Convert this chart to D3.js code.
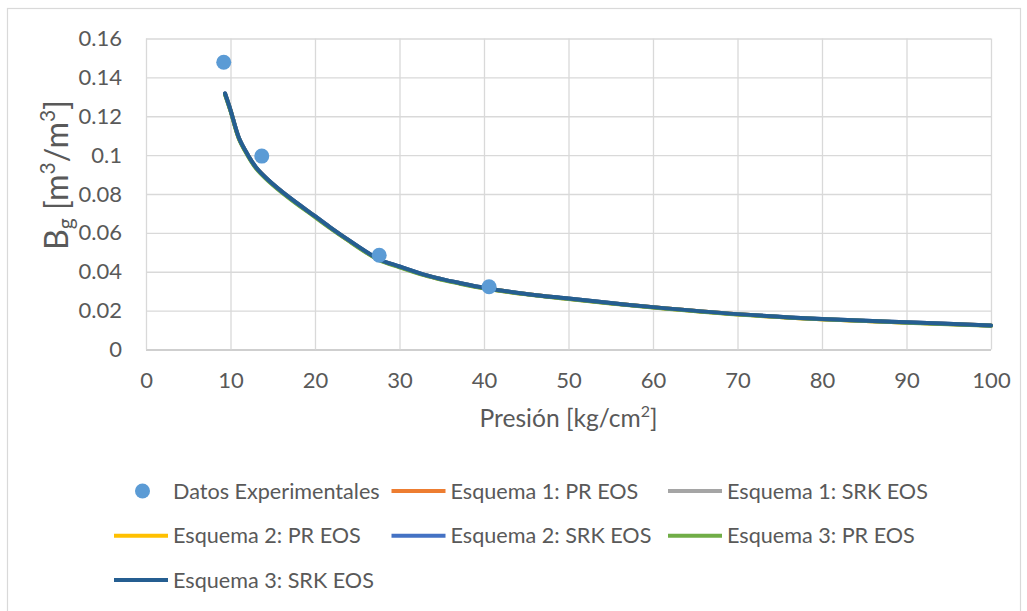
<!DOCTYPE html>
<html>
<head>
<meta charset="utf-8">
<script src="https://cdn.jsdelivr.net/npm/d3@7"></script>
<style>
  body { margin: 0; background: #fff; }
  text { font-family: Lato, "Open Sans", sans-serif; fill: #595959; }
</style>
</head>
<body>
<svg id="chart" width="1027" height="611"></svg>
<script>
// Experimental gas formation volume factor
const expPressure = [9.2, 13.7, 27.6, 40.6];
const expBg = [0.1478, 0.0995, 0.0485, 0.0323];

// Pressures at which the EOS models were evaluated
const modelPressure = [9.35, 10, 11, 12, 13, 14.5, 17, 20, 22, 23.5, 27.5, 30, 33, 35, 37, 40, 45, 50, 55, 60, 70, 80, 90, 100];

// Bg predicted by each scheme / equation of state
const bgScheme1PR  = [0.1316, 0.1231, 0.1087, 0.1004, 0.0937, 0.0870, 0.0780, 0.0685, 0.0621, 0.0575, 0.0464, 0.0425, 0.0383, 0.0361, 0.0342, 0.0316, 0.0285, 0.0261, 0.0238, 0.0217, 0.0181, 0.0156, 0.0139, 0.0123];
const bgScheme1SRK = [0.1317, 0.1232, 0.1088, 0.1005, 0.0938, 0.0871, 0.0781, 0.0686, 0.0622, 0.0576, 0.0465, 0.0426, 0.0384, 0.0362, 0.0343, 0.0317, 0.0286, 0.0262, 0.0239, 0.0218, 0.0182, 0.0157, 0.0140, 0.0124];
const bgScheme2PR  = [0.1315, 0.1230, 0.1086, 0.1003, 0.0936, 0.0869, 0.0779, 0.0684, 0.0620, 0.0575, 0.0464, 0.0425, 0.0383, 0.0361, 0.0342, 0.0316, 0.0285, 0.0261, 0.0238, 0.0217, 0.0181, 0.0156, 0.0139, 0.0123];
const bgScheme2SRK = [0.1317, 0.1232, 0.1088, 0.1005, 0.0938, 0.0871, 0.0781, 0.0686, 0.0622, 0.0577, 0.0466, 0.0427, 0.0384, 0.0362, 0.0343, 0.0317, 0.0286, 0.0262, 0.0239, 0.0218, 0.0182, 0.0157, 0.0140, 0.0124];
const bgScheme3PR  = [0.1312, 0.1227, 0.1083, 0.1000, 0.0933, 0.0866, 0.0776, 0.0681, 0.0618, 0.0573, 0.0462, 0.0423, 0.0381, 0.0359, 0.0340, 0.0315, 0.0284, 0.0260, 0.0237, 0.0216, 0.0180, 0.0155, 0.0138, 0.0122];
const bgScheme3SRK = [0.1317, 0.1232, 0.1088, 0.1005, 0.0938, 0.0871, 0.0781, 0.0686, 0.0622, 0.0577, 0.0466, 0.0427, 0.0384, 0.0362, 0.0343, 0.0317, 0.0286, 0.0262, 0.0239, 0.0218, 0.0182, 0.0157, 0.0140, 0.0124];

const seriesNames = ["Datos Experimentales", "Esquema 1: PR EOS", "Esquema 1: SRK EOS",
                     "Esquema 2: PR EOS", "Esquema 2: SRK EOS", "Esquema 3: PR EOS", "Esquema 3: SRK EOS"];
const seriesColors = ["#5B9BD5", "#ED7D31", "#A5A5A5", "#FFC000", "#4472C4", "#70AD47", "#255E91"];
const modelSeries = [bgScheme1PR, bgScheme1SRK, bgScheme2PR, bgScheme2SRK, bgScheme3PR, bgScheme3SRK];

const xTicks = [0, 10, 20, 30, 40, 50, 60, 70, 80, 90, 100];
const xTickLabels = ["0", "10", "20", "30", "40", "50", "60", "70", "80", "90", "100"];
const yTicks = [0, 0.02, 0.04, 0.06, 0.08, 0.1, 0.12, 0.14, 0.16];
const yTickLabels = ["0", "0.02", "0.04", "0.06", "0.08", "0.1", "0.12", "0.14", "0.16"];

const svg = d3.select("#chart");
const W = 1027, H = 611;
const plot = { left: 146, right: 991, top: 38.5, bottom: 349.5 };
const tickFont = 22;
const legendFont = 21.6;

svg.append("rect").attr("width", W).attr("height", H).attr("fill", "#fff");
// chart frame
svg.append("rect")
  .attr("x", 7.5).attr("y", 8.5).attr("width", 1013).attr("height", 700)
  .attr("fill", "none").attr("stroke", "#d9d9d9").attr("stroke-width", 1.2);

const x = d3.scaleLinear().domain([0, 100]).range([plot.left, plot.right]);
const y = d3.scaleLinear().domain([0, 0.16]).range([plot.bottom, plot.top]);

// gridlines
const gridY = svg.append("g").attr("transform", `translate(${plot.left},0)`)
  .call(d3.axisLeft(y).tickValues(yTicks).tickSize(-(plot.right - plot.left)).tickFormat(""));
gridY.select(".domain").remove();
gridY.selectAll("line").attr("stroke", d => d === 0 ? "#bfbfbf" : "#d9d9d9").attr("stroke-width", 1.3);

const gridX = svg.append("g").attr("transform", `translate(0,${plot.bottom})`)
  .call(d3.axisBottom(x).tickValues(xTicks).tickSize(-(plot.bottom - plot.top)).tickFormat(""));
gridX.select(".domain").remove();
gridX.selectAll("line").attr("stroke", "#d9d9d9").attr("stroke-width", 1.3);

// tick labels
const axY = svg.append("g").attr("transform", `translate(${plot.left},0)`)
  .call(d3.axisLeft(y).tickValues(yTicks).tickSize(0).tickPadding(24)
    .tickFormat((d, i) => yTickLabels[i]));
axY.select(".domain").remove();
axY.selectAll("text").attr("font-size", tickFont).attr("font-family", null).attr("fill", "#595959");

const axX = svg.append("g").attr("transform", `translate(0,${plot.bottom})`)
  .call(d3.axisBottom(x).tickValues(xTicks).tickSize(0).tickPadding(23)
    .tickFormat((d, i) => xTickLabels[i]));
axX.select(".domain").remove();
axX.selectAll("text").attr("font-size", tickFont).attr("font-family", null).attr("fill", "#595959");

// scale a title's font so that it spans the wanted length
function fitFont(sel, base, length) {
  sel.attr("font-size", base);
  const w = sel.node().getComputedTextLength();
  const size = base * length / w;
  sel.attr("font-size", size);
  return size;
}

// axis titles (superscripts and subscripts sized in em so they follow the fitted font)
const xt = svg.append("text").attr("text-anchor", "start");
xt.append("tspan").text("Presión [kg/cm");
xt.append("tspan").text("2").attr("font-size", "0.65em").attr("dy", "-0.62em");
xt.append("tspan").text("]").attr("dy", "0.4em");
fitFont(xt, 22, 178);
xt.attr("x", (plot.left + plot.right) / 2 - 89).attr("y", 427);

const yt = svg.append("text").attr("text-anchor", "start");
yt.append("tspan").text("B");
yt.append("tspan").text("g").attr("font-size", "0.65em").attr("dy", "0.25em");
yt.append("tspan").text(" [m").attr("dy", "-0.16em");
yt.append("tspan").text("3").attr("font-size", "0.65em").attr("dy", "-0.62em");
yt.append("tspan").text("/m").attr("dy", "0.4em");
yt.append("tspan").text("3").attr("font-size", "0.65em").attr("dy", "-0.62em");
yt.append("tspan").text("]").attr("dy", "0.4em");
fitFont(yt, 22, 150);
yt.attr("transform", "translate(68,250) rotate(-90)");

// model curves
const line = d3.line()
  .x((d, i) => x(modelPressure[i]))
  .y(d => y(d))
  .curve(d3.curveCatmullRom.alpha(0.5));

modelSeries.forEach((vals, k) => {
  svg.append("path").datum(vals)
    .attr("d", line)
    .attr("fill", "none")
    .attr("stroke", seriesColors[k + 1])
    .attr("stroke-width", 4)
    .attr("stroke-linecap", "round")
    .attr("stroke-linejoin", "round");
});

// experimental points
svg.append("g").selectAll("circle").data(expBg).join("circle")
  .attr("cx", (d, i) => x(expPressure[i]))
  .attr("cy", d => y(d))
  .attr("r", 7.5)
  .attr("fill", seriesColors[0]);

// legend
const legendColX = [114, 391.5, 668];
const legendRowY = [491, 535.7, 580];
const lg = svg.append("g");
seriesNames.forEach((name, i) => {
  const cx = legendColX[i % 3], cy = legendRowY[Math.floor(i / 3)];
  if (i === 0) {
    lg.append("circle").attr("cx", cx + 28.5).attr("cy", cy).attr("r", 7.5).attr("fill", seriesColors[i]);
  } else {
    lg.append("line").attr("x1", cx).attr("x2", cx + 54).attr("y1", cy).attr("y2", cy)
      .attr("stroke", seriesColors[i]).attr("stroke-width", 4);
  }
  lg.append("text").attr("x", cx + 59).attr("y", cy).attr("dy", "0.35em")
    .attr("font-size", legendFont).text(name);
});
</script>
</body>
</html>
